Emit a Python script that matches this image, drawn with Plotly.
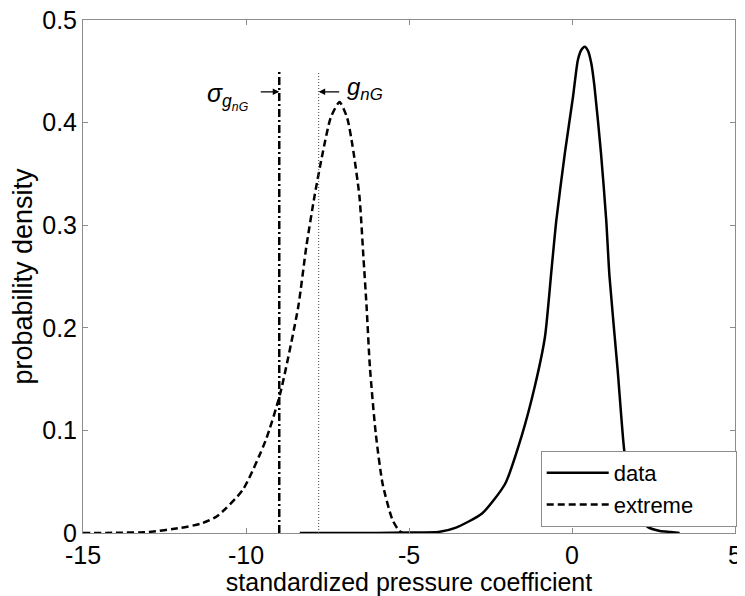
import plotly.graph_objects as go

# data curve (observed pdf)
data_x = [-8.35, -6.0, -5.0, -4.1, -3.58, -2.76, -2.05, -1.55, -1.14, -0.83, -0.63, -0.48,
          -0.22, 0.03, 0.18, 0.29, 0.39, 0.49, 0.59, 0.69, 0.89, 1.05, 1.15, 1.40, 1.60, 1.80, 2.00, 2.32, 2.7, 3.03, 3.3]
data_y = [0.0, 0.0, 0.0005, 0.001, 0.005, 0.019, 0.048, 0.094, 0.143, 0.191, 0.256, 0.305,
          0.37, 0.425, 0.461, 0.471, 0.474, 0.470, 0.458, 0.435, 0.37, 0.305, 0.250, 0.159, 0.081, 0.040, 0.018, 0.006, 0.002, 0.001, 0.0]

# extreme value pdf
ext_x = [-15.0, -14.0, -13.0, -12.0, -11.4, -10.9, -10.1, -9.4, -8.95, -8.4, -8.15, -7.9,
         -7.65, -7.4, -7.13, -6.9, -6.73, -6.52, -6.4, -6.3, -6.2, -6.02, -5.81, -5.51, -5.3, -5.2]
ext_y = [0.0, 0.0002, 0.001, 0.005, 0.009, 0.016, 0.042, 0.09, 0.136, 0.22, 0.279, 0.328,
         0.37, 0.405, 0.42, 0.405, 0.377, 0.328, 0.27, 0.22, 0.162, 0.097, 0.048, 0.013, 0.002, 0.0]

sigma_x = -8.98   # dash-dot marker
gnG_x = -7.77     # dotted marker
vline_top = 0.45

x_ticks = [-15, -10, -5, 0, 5]
y_ticks = [0, 0.1, 0.2, 0.3, 0.4, 0.5]
y_tick_text = ["0", "0.1", "0.2", "0.3", "0.4", "0.5"]
series_names = ["data", "extreme"]

FONT = "Liberation Sans, Arial, Helvetica, sans-serif"
FS = 25
PAD = "\u00a0" * 6  # right padding inside the legend box

fig = go.Figure()
fig.add_trace(go.Scatter(x=data_x, y=data_y, mode="lines", name=series_names[0] + PAD,
                         line=dict(color="black", width=2.5, shape="spline", smoothing=0.6)))
fig.add_trace(go.Scatter(x=ext_x, y=ext_y, mode="lines", name=series_names[1] + PAD,
                         line=dict(color="black", width=2.5, dash="7px,4px", shape="spline", smoothing=0.6)))
fig.add_trace(go.Scatter(x=[sigma_x, sigma_x], y=[0, vline_top], mode="lines", showlegend=False,
                         line=dict(color="black", width=2.5, dash="8px,3px,2px,3px")))
fig.add_trace(go.Scatter(x=[gnG_x, gnG_x], y=[0, vline_top], mode="lines", showlegend=False,
                         line=dict(color="#444444", width=1, dash="1px,2px")))

# arrows
fig.add_annotation(x=sigma_x, y=0.43, ax=-20, ay=0, axref="pixel", ayref="pixel",
                   showarrow=True, arrowhead=2, arrowsize=1, arrowwidth=1.3, arrowcolor="black", text="")
fig.add_annotation(x=gnG_x, y=0.43, ax=22, ay=0, axref="pixel", ayref="pixel",
                   showarrow=True, arrowhead=2, arrowsize=1, arrowwidth=1.3, arrowcolor="black", text="")
# labels
fig.add_annotation(x=-11.25, y=0.4445, xanchor="left", yanchor="top", showarrow=False,
                   text="<i>σ<sub>g<sub>nG</sub></sub></i>", font=dict(family=FONT, size=25, color="black"))
fig.add_annotation(x=-6.97, y=0.450, xanchor="left", yanchor="top", showarrow=False,
                   text="<i>g<sub>nG</sub></i>", font=dict(family=FONT, size=24, color="black"))

axis_common = dict(showline=True, linecolor="#8c8c8c", linewidth=1, mirror="ticks",
                   ticks="inside", ticklen=5, tickcolor="#8c8c8c", showgrid=False, zeroline=False,
                   automargin=False, ticklabeloverflow="allow",
                   tickfont=dict(family=FONT, size=FS, color="black"))
fig.update_xaxes(range=[-15, 5], tickvals=x_ticks, ticktext=[str(v) for v in x_ticks],
                 title=dict(text="standardized pressure coefficient", font=dict(family=FONT, size=FS, color="black"), standoff=0),
                 **axis_common)
fig.update_yaxes(range=[0, 0.5], tickvals=y_ticks, ticktext=y_tick_text,
                 title=dict(text="probability density", font=dict(family=FONT, size=27, color="black"), standoff=6),
                 **axis_common)

# browser body margin of 8px is compensated by a smaller figure and margins
fig.update_layout(width=737, height=588, margin=dict(l=75, r=8, t=12, b=63),
                  plot_bgcolor="white", paper_bgcolor="white",
                  legend=dict(x=0.702, y=0.0117, xanchor="left", yanchor="bottom", bgcolor="white",
                              bordercolor="#8c8c8c", borderwidth=1, font=dict(family=FONT, size=22, color="black"),
                              tracegroupgap=0, itemwidth=62))
fig.write_html("out.html")
